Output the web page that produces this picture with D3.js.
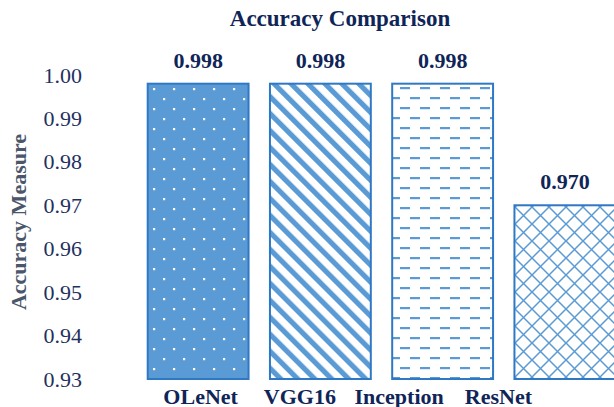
<!DOCTYPE html>
<html>
<head>
<meta charset="utf-8">
<script src="https://cdn.jsdelivr.net/npm/d3@7/dist/d3.min.js"></script>
<style>
  html, body { margin: 0; padding: 0; background: #ffffff; }
  svg { display: block; font-family: "Liberation Serif", "Times New Roman", serif; }
</style>
</head>
<body>
<svg id="chart" width="614" height="407"></svg>
<script>
// Model accuracies
const models = ["OLeNet", "VGG16", "Inception", "ResNet"];
const accuracy = [0.998, 0.998, 0.998, 0.970];
const patternIds = ["dots", "stripes", "dashes", "lattice"];
const yTicks = [0.93, 0.94, 0.95, 0.96, 0.97, 0.98, 0.99, 1.00];

const svg = d3.select("#chart");
const blue = "#5b9bd5";
const edge = "#2f78c4";
const navy = "#0f2557";

// Bars use the full band scale; category labels sit on a tighter scale
const x = d3.scaleBand().domain(models).range([137, 626]).paddingInner(0.175).paddingOuter(0.0875);
const xLabel = d3.scaleBand().domain(models).range([151, 548]);
const y = d3.scaleLinear().domain([0.93, 1.0]).range([379, 75]);

// Fill patterns
const defs = svg.append("defs");

const pDots = defs.append("pattern").attr("id", "dots").attr("patternUnits", "userSpaceOnUse")
  .attr("width", 20).attr("height", 20).attr("x", 147).attr("y", 84);
pDots.append("rect").attr("width", 20).attr("height", 20).attr("fill", blue);
pDots.append("rect").attr("x", 6).attr("y", 4).attr("width", 2.2).attr("height", 2.2).attr("fill", "#ffffff");
pDots.append("rect").attr("x", 16).attr("y", 14).attr("width", 2.2).attr("height", 2.2).attr("fill", "#ffffff");

const pStripes = defs.append("pattern").attr("id", "stripes").attr("patternUnits", "userSpaceOnUse")
  .attr("width", 12).attr("height", 12).attr("patternTransform", "rotate(-45)");
pStripes.append("rect").attr("width", 12).attr("height", 12).attr("fill", "#ffffff");
pStripes.append("rect").attr("x", 0).attr("width", 5.2).attr("height", 12).attr("fill", blue);

const pDash = defs.append("pattern").attr("id", "dashes").attr("patternUnits", "userSpaceOnUse")
  .attr("width", 20).attr("height", 20).attr("x", 393).attr("y", 84);
pDash.append("rect").attr("width", 20).attr("height", 20).attr("fill", "#ffffff");
pDash.append("rect").attr("x", 7).attr("y", 3).attr("width", 10).attr("height", 2.2).attr("fill", blue);
pDash.append("rect").attr("x", -3).attr("y", 13).attr("width", 10).attr("height", 2.2).attr("fill", blue);
pDash.append("rect").attr("x", 17).attr("y", 13).attr("width", 10).attr("height", 2.2).attr("fill", blue);

const pLat = defs.append("pattern").attr("id", "lattice").attr("patternUnits", "userSpaceOnUse")
  .attr("width", 17).attr("height", 17).attr("x", 515).attr("y", 207);
pLat.append("rect").attr("width", 17).attr("height", 17).attr("fill", "#ffffff");
pLat.append("path").attr("d", "M0,0 L17,17 M17,0 L0,17")
  .attr("stroke", blue).attr("stroke-width", 1.5).attr("fill", "none");

// Bars
svg.selectAll("rect.bar").data(models).enter().append("rect")
  .attr("class", "bar")
  .attr("x", d => x(d))
  .attr("y", (d, i) => y(accuracy[i]))
  .attr("width", x.bandwidth())
  .attr("height", (d, i) => y(0.93) - y(accuracy[i]))
  .attr("fill", (d, i) => `url(#${patternIds[i]})`)
  .attr("stroke", edge)
  .attr("stroke-width", 2);

// Value labels
svg.selectAll("text.val").data(models).enter().append("text")
  .attr("class", "val")
  .attr("x", d => x(d) + x.bandwidth() / 2)
  .attr("y", (d, i) => y(accuracy[i]) - 16)
  .attr("text-anchor", "middle")
  .attr("font-size", 22).attr("font-weight", "bold").attr("fill", navy)
  .text((d, i) => accuracy[i].toFixed(3));

// Y axis (labels only)
const yAxis = d3.axisLeft(y).tickValues(yTicks).tickFormat(d3.format(".2f")).tickSize(0).tickPadding(0);
const gy = svg.append("g").attr("transform", "translate(82,0)").call(yAxis);
gy.select(".domain").remove();
gy.selectAll("text").attr("font-size", 22).attr("fill", "#1f3160")
  .attr("font-family", "Liberation Serif, serif");

// X axis (labels only)
const xAxis = d3.axisBottom(xLabel).tickSize(0).tickPadding(0);
const gx = svg.append("g").attr("transform", "translate(0,387)").call(xAxis);
gx.select(".domain").remove();
gx.selectAll("text").attr("font-size", 22).attr("font-weight", "bold").attr("fill", navy)
  .attr("font-family", "Liberation Serif, serif").attr("dy", "0.75em");

// Title
svg.append("text").attr("x", 340).attr("y", 26).attr("text-anchor", "middle")
  .attr("font-size", 23).attr("font-weight", "bold").attr("fill", navy)
  .text("Accuracy Comparison");

// Y axis title
svg.append("text").attr("transform", "translate(26,222) rotate(-90)").attr("text-anchor", "middle")
  .attr("font-size", 22).attr("font-weight", "bold").attr("fill", "#4b566a")
  .text("Accuracy Measure");
</script>
</body>
</html>
